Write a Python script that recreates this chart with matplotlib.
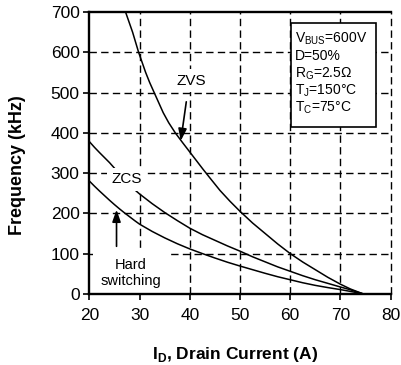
import matplotlib
matplotlib.use("Agg")
import matplotlib.pyplot as plt
from matplotlib.patches import Rectangle

plt.rcParams['font.family'] = ['Liberation Sans', 'DejaVu Sans']
plt.rcParams['mathtext.fontset'] = 'custom'
plt.rcParams['mathtext.rm'] = 'Liberation Sans'
plt.rcParams['lines.scale_dashes'] = False

# curves: drain current (A) -> frequency (kHz)
zvs_x = [27.2, 27.9, 28.6, 29.2, 29.8, 30.5, 31.2, 32.0, 32.9, 33.8, 34.7, 35.8, 37.1,
         38.6, 40.2, 42.6, 44, 46, 48, 50, 52.5, 55, 57.5, 60, 62.5, 65, 67.5, 70, 72, 74.5]
zvs_y = [700, 675, 650, 625, 600, 575, 550, 525, 500, 475, 450, 425, 400,
         375, 349, 310, 288, 257, 230, 205, 176, 150, 124, 100, 79, 60, 41, 24, 12, 0]

zcs_x = [20, 21, 22, 23, 24, 26, 28.5, 30, 32.5, 35, 37.5, 40, 42.5, 45, 47.5, 50,
         52.5, 55, 57.5, 60, 62.5, 65, 67.5, 70, 72, 74.5]
zcs_y = [378, 364, 351, 338.5, 326, 298, 264, 248, 224, 202, 182, 163, 147, 133, 119, 106,
         92, 79.5, 67, 56, 45, 35, 26, 17, 10, 0]

hard_x = [20, 21, 22, 23, 24, 25, 26, 27, 28, 29, 30, 32.5, 35, 37.5, 40, 42.5, 45, 47.5,
          50, 52.5, 55, 57.5, 60, 62.5, 65, 67.5, 70, 72, 74.5]
hard_y = [280, 267.5, 255.5, 244, 232.5, 221.5, 211, 201, 191.5, 182, 173, 155, 139, 124.5,
          111.5, 100, 89, 78.5, 69, 60, 51, 42.5, 35, 27.5, 21, 15.5, 10.5, 6, 0]

x_ticks = [20, 30, 40, 50, 60, 70, 80]
y_ticks = [0, 100, 200, 300, 400, 500, 600, 700]

conditions = [r'V$_\mathregular{BUS}$=600V', 'D=50%', r'R$_\mathregular{G}$=2.5Ω',
              r'T$_\mathregular{J}$=150°C', r'T$_\mathregular{C}$=75°C']

fig = plt.figure(figsize=(4.01, 3.65), dpi=100)
ax = fig.add_axes([0.223, 0.195, 0.751, 0.772])

dash = (0, (5.3, 3.1))
for xv in x_ticks[1:]:
    ax.axvline(xv, color='k', lw=1.0, ls=dash, zorder=1, clip_on=False)
for yv in y_ticks[1:-1]:
    ax.axhline(yv, color='k', lw=1.0, ls=dash, zorder=1)

for xs, ys in [(zvs_x, zvs_y), (zcs_x, zcs_y), (hard_x, hard_y)]:
    ax.plot(xs, ys, color='k', lw=1.1, zorder=2)

ax.set_xlim(20, 80)
ax.set_ylim(0, 700)
ax.set_xticks(x_ticks)
ax.set_yticks(y_ticks)
ax.tick_params(direction='out', length=4, width=1.2, labelsize=12.5)
ax.tick_params(axis='x', pad=6)
ax.tick_params(axis='y', pad=3)
for s in ['left', 'bottom', 'top']:
    ax.spines[s].set_linewidth(1.7)
ax.spines['right'].set_visible(False)

white = dict(boxstyle='square,pad=0.3', fc='white', ec='none')
ax.text(27.4, 285, 'ZCS', fontsize=11, ha='center', va='center', bbox=white, zorder=2.3)
ax.text(40.3, 529, 'ZVS', fontsize=11, ha='center', va='center', bbox=white, zorder=2.3)
ax.text(28.2, 52, 'Hard\nswitching', fontsize=10.5, ha='center', va='center',
        linespacing=1.15, bbox=dict(boxstyle='square,pad=0.5', fc='white', ec='none'), zorder=2.3)

arrow = dict(arrowstyle='-|>,head_length=0.6,head_width=0.21', color='k', lw=1.2,
             mutation_scale=12, shrinkA=0, shrinkB=0)
ax.annotate('', xy=(38.2, 380), xytext=(39.3, 477), arrowprops=arrow, zorder=3)
ax.annotate('', xy=(25.4, 209), xytext=(25.4, 118), arrowprops=arrow, zorder=3)

ax.add_patch(Rectangle((60.1, 415), 17.0, 257, fc='white', ec='k', lw=1.2, zorder=2.5))
for i, t in enumerate(conditions):
    ax.text(61.0, 624 - i * 43, t, fontsize=10, ha='left', va='baseline', zorder=2.6)

ax.set_xlabel(r'I$_\mathregular{D}$, Drain Current (A)', fontsize=12.5, fontweight='bold')
ax.xaxis.set_label_coords((235 - 89.5) / 301, -0.18)
fig.text(0.043, 1 - 165 / 365, 'Frequency (kHz)', fontsize=13, fontweight='bold',
         rotation=90, ha='center', va='center')

fig.savefig('out.png', dpi=100)
